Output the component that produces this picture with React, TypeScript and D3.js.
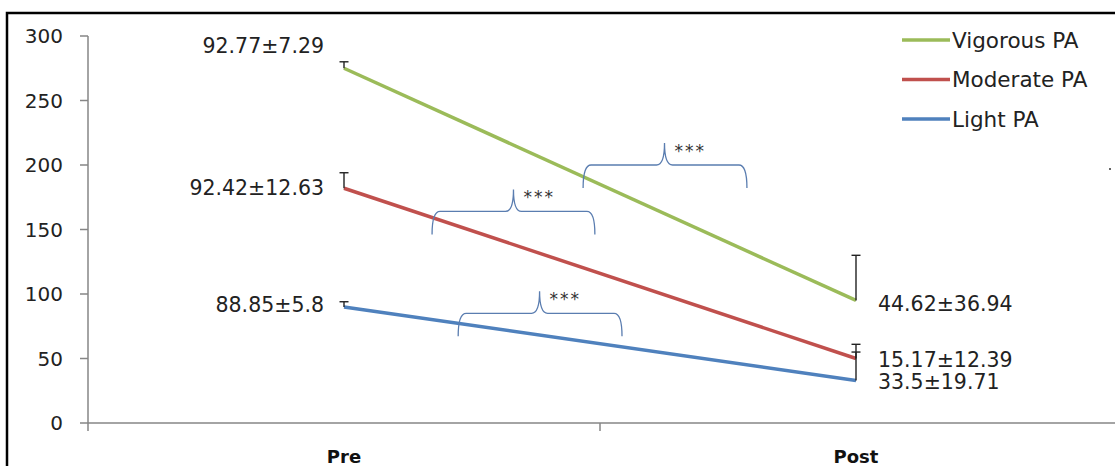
import React, { useEffect } from 'react'
import * as d3 from 'd3'

const categories = ['Pre', 'Post']
const seriesNames = ['Vigorous PA', 'Moderate PA', 'Light PA']
const seriesColors = ['#9bbb59', '#c0504d', '#4f81bd']
const vigorous = [275, 95]
const moderate = [182, 50]
const light = [90, 33]
const vigorousErr = [5, 35]
const moderateErr = [12, 11]
const lightErr = [4, 22]
const preLabels = ['92.77±7.29', '92.42±12.63', '88.85±5.8']
const postLabels = ['44.62±36.94', '15.17±12.39', '33.5±19.71']
const yTicks = [0, 50, 100, 150, 200, 250, 300]

// braces: from/to/tip as fraction of the way Pre -> Post, level in data units
const braces = [
  { from: 0.467, to: 0.787, tip: 0.626, level: 200 },
  { from: 0.172, to: 0.49, tip: 0.331, level: 164 },
  { from: 0.223, to: 0.543, tip: 0.382, level: 85 }
]

const W = 1115
const H = 466
const FONT = 'DejaVu Sans, sans-serif'

export default function App () {
  useEffect(() => {
    document.body.style.margin = '0'
  }, [])

  const x = d3.scaleBand().domain(categories).range([88, 1112])
  const y = d3.scaleLinear().domain([0, 300]).range([423, 36])
  const cx = (c: string) => (x(c) as number) + x.bandwidth() / 2
  const t = d3.scaleLinear().domain([0, 1]).range([cx('Pre'), cx('Post')])

  const values = [vigorous, moderate, light]
  const errs = [vigorousErr, moderateErr, lightErr]
  const line = d3.line<number>()
    .x((d, i) => cx(categories[i]))
    .y(d => y(d))

  const preDy = [-22, 0, -2]
  const postDy = [3, 1, 1]

  const bracePath = (b: typeof braces[0]) => {
    const l = t(b.from)
    const r = t(b.to)
    const m = t(b.tip)
    const h = y(b.level)
    const bot = h + 23
    const top = h - 22
    const k = 8
    return `M${l},${bot} Q${l},${h} ${l + k},${h} L${m - k},${h} Q${m},${h} ${m},${top} ` +
      `Q${m},${h} ${m + k},${h} L${r - k},${h} Q${r},${h} ${r},${bot}`
  }

  return (
    <svg width={W} height={H} style={{ display: 'block', background: '#fff' }} fontFamily={FONT}>
      <rect x={7} y={13} width={1120} height={470} fill='none' stroke='#000' strokeWidth={2.5} />

      {/* y axis */}
      <line x1={88} x2={88} y1={y(300)} y2={y(0)} stroke='#868686' strokeWidth={1.5} />
      {yTicks.map(v => (
        <g key={v}>
          <line x1={80} x2={88} y1={y(v)} y2={y(v)} stroke='#868686' strokeWidth={1.5} />
          <text x={63} y={y(v)} dy='0.35em' textAnchor='end' fontSize={20} fill='#222'>{v}</text>
        </g>
      ))}

      {/* x axis */}
      <line x1={88} x2={1115} y1={y(0)} y2={y(0)} stroke='#868686' strokeWidth={1.5} />
      {[x.range()[0], (x('Post') as number)].map(v => (
        <line key={v} x1={v} x2={v} y1={y(0)} y2={y(0) + 8} stroke='#868686' strokeWidth={1.5} />
      ))}
      {categories.map(c => (
        <text key={c} x={cx(c)} y={457} dy='0.35em' textAnchor='middle' fontSize={18} fontWeight='bold' fill='#111'>{c}</text>
      ))}

      {/* lines */}
      {values.map((s, i) => (
        <path key={i} d={line(s) || ''} fill='none' stroke={seriesColors[i]} strokeWidth={3.5} />
      ))}

      {/* error bars (plus only) */}
      {values.map((s, i) => s.map((v, j) => {
        const px = cx(categories[j])
        const top = y(v + errs[i][j])
        return (
          <g key={i + '-' + j} stroke='#222' strokeWidth={1.4}>
            <line x1={px} x2={px} y1={y(v)} y2={top} />
            <line x1={px - 4.5} x2={px + 4.5} y1={top} y2={top} />
          </g>
        )
      }))}

      {/* value labels */}
      {values.map((s, i) => (
        <g key={i} fontSize={20.5} fill='#222'>
          <text x={cx('Pre') - 20} y={y(s[0]) + preDy[i]} dy='0.35em' textAnchor='end'>{preLabels[i]}</text>
          <text x={cx('Post') + 22} y={y(s[1]) + postDy[i]} dy='0.35em'>{postLabels[i]}</text>
        </g>
      ))}

      {/* significance braces */}
      {braces.map((b, i) => (
        <g key={i}>
          <path d={bracePath(b)} fill='none' stroke='#5a7db0' strokeWidth={1.3} />
          <text x={t(b.tip) + 10} y={y(b.level) - 20} dy='0.7em' fontSize={17} letterSpacing={2} fill='#333'>***</text>
        </g>
      ))}

      {/* legend */}
      {seriesNames.map((n, i) => (
        <g key={n} transform={`translate(902,${40 + i * 39.5})`}>
          <line x1={0} x2={48} y1={0} y2={0} stroke={seriesColors[i]} strokeWidth={3.5} />
          <text x={50} y={0} dy='0.35em' fontSize={21.5} fill='#222'>{n}</text>
        </g>
      ))}

      <rect x={1109} y={168} width={2} height={2} fill='#666' />
    </svg>
  )
}
